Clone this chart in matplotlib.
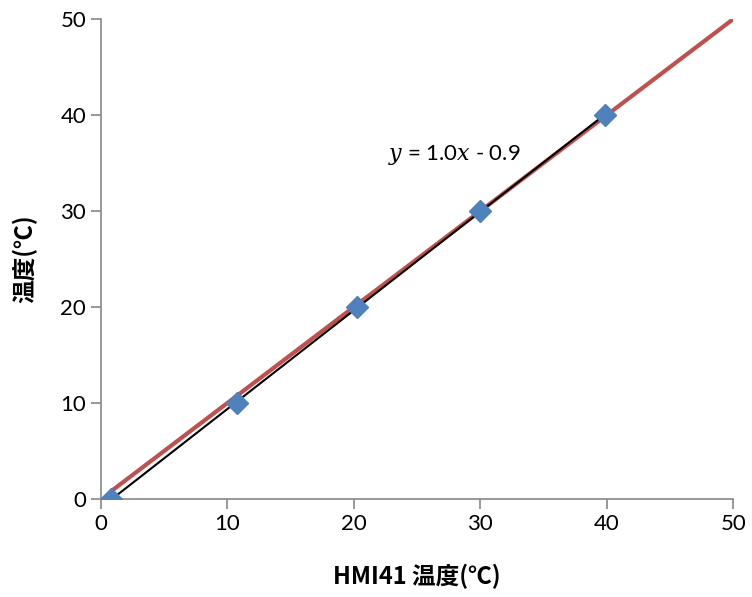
import matplotlib
matplotlib.use("Agg")
import matplotlib.pyplot as plt
import numpy as np

plt.rcParams['font.family'] = ['Lato', 'Noto Sans CJK SC', 'DejaVu Sans']
plt.rcParams['mathtext.fontset'] = 'dejavuserif'

# measured points
hmi_temp = np.array([0.8, 10.8, 20.25, 30.0, 39.85])
ref_temp = np.array([0, 10, 20, 30, 40])
# reference line y = x
ideal_x = np.array([0.9, 50])
ideal_y = np.array([0.9, 50])

fig = plt.figure(figsize=(7.52, 5.97), dpi=100)
ax = fig.add_axes([0.134, 0.164, 0.841, 0.804])

ax.plot(ideal_x, ideal_y, color="#C0504D", lw=3, zorder=2)
coef = np.polyfit(hmi_temp, ref_temp, 1)
tx = np.array([hmi_temp.min(), hmi_temp.max()])
ax.plot(tx, np.polyval(coef, tx), color="black", lw=1.5, zorder=3)
ax.plot(hmi_temp, ref_temp, ls="none", marker="D", ms=11, color="#4F81BD", zorder=4)

ax.text(22.7, 35.8, r"$y$ = 1.0$x$ - 0.9", fontsize=16, va="center", ha="left")

ax.set_xlim(0, 50)
ax.set_ylim(0, 50)
ax.set_xticks(np.arange(0, 51, 10))
ax.set_yticks(np.arange(0, 51, 10))
for s in ["top", "right"]:
    ax.spines[s].set_visible(False)
for s in ["left", "bottom"]:
    ax.spines[s].set_color("#888888")
    ax.spines[s].set_linewidth(1.2)
ax.tick_params(direction="out", length=7, width=1.2, color="#888888", labelsize=16)

ax.set_xlabel("HMI41 温度(℃)", fontsize=17, fontweight="bold",
              family=['Noto Sans CJK SC', 'DejaVu Sans'])
ax.set_ylabel("温度(℃)", fontsize=17, fontweight="bold",
              family=['Noto Sans CJK SC', 'DejaVu Sans'])
ax.xaxis.set_label_coords(0.5, -0.135)
ax.yaxis.set_label_coords(-0.1, 0.5)

plt.savefig("out.png", dpi=100)
